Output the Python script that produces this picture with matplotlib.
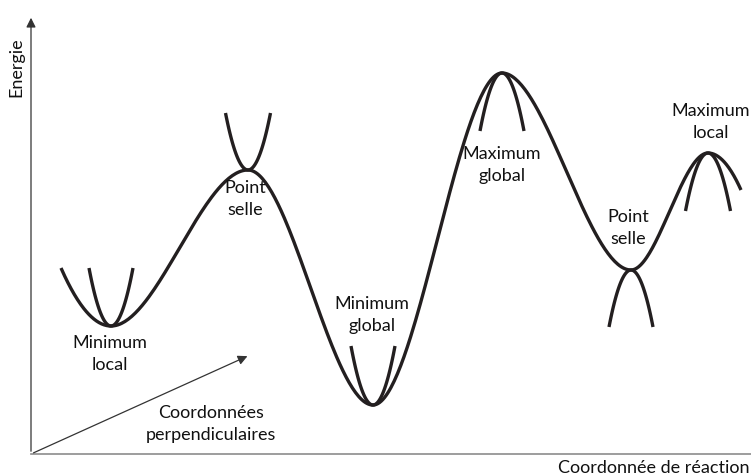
import numpy as np
import matplotlib
matplotlib.use("Agg")
from matplotlib import pyplot as plt

#############################################################
# Data (schematic energy landscape, pixel-like units, y up)
#############################################################
# nodes of the main curve: start, extrema..., end
node_x = [61, 111, 248, 373, 502, 631, 708, 741]
node_y = [207, 149, 305, 70, 402, 205, 322, 285]
# slope at each node (0 at extrema)
node_slope = [-2.27, 0.0, 0.0, 0.0, 0.0, 0.0, 0.0, -2.24]

# perpendicular parabolas: centre x, vertex y, half width, depth (+ up, - down)
par_x = [111, 248, 373, 502, 631, 708]
par_y = [149, 305, 70, 402, 205, 322]
par_w = [22, 22.5, 22, 22, 22, 22.5]
par_h = [58, 57, 59, -58, -57, -58]

labels = ["Minimum\nlocal", "Point\nselle", "Minimum\nglobal",
          "Maximum\nglobal", "Point\nselle", "Maximum\nlocal"]
label_x = [110, 245, 372, 502, 628, 711]
label_y = [121, 276, 160, 310, 247, 353]

FONT = "Lato"
FS = 13
LW = 2.4

#############################################################
# Plot
#############################################################
fig = plt.figure(figsize=(7.51, 4.75), dpi=100)
ax = fig.add_axes([0, 0, 1, 1])
ax.set_xlim(0, 751)
ax.set_ylim(0, 475)
ax.axis("off")

# main curve: cubic Hermite pieces between nodes
xs, ys = [], []
for i in range(len(node_x) - 1):
    x0, x1 = node_x[i], node_x[i + 1]
    y0, y1 = node_y[i], node_y[i + 1]
    h = x1 - x0
    t = np.linspace(0, 1, 80)
    h00 = 2*t**3 - 3*t**2 + 1
    h10 = t**3 - 2*t**2 + t
    h01 = -2*t**3 + 3*t**2
    h11 = t**3 - t**2
    xs.append(x0 + t*h)
    ys.append(h00*y0 + h10*h*node_slope[i] + h01*y1 + h11*h*node_slope[i + 1])
ax.plot(np.concatenate(xs), np.concatenate(ys), color="#231f20", lw=LW,
        solid_capstyle="butt")

# perpendicular parabolas
for cx, cy, w, d in zip(par_x, par_y, par_w, par_h):
    px = np.linspace(cx - w, cx + w, 60)
    ax.plot(px, cy + d*((px - cx)/w)**2, color="#231f20", lw=LW,
            solid_capstyle="butt")

for txt, lx, ly in zip(labels, label_x, label_y):
    ax.text(lx, ly, txt, ha="center", va="center", fontsize=FS,
            family=FONT, linespacing=1.5, color="#111111")

# axes
ax.annotate("", xy=(31, 460), xytext=(31, 21),
            arrowprops=dict(arrowstyle="-|>", color="#333333", lw=0.9,
                            mutation_scale=14))
ax.plot([31, 751], [21, 21], color="#8c8c8c", lw=1.2)
ax.annotate("", xy=(250, 120), xytext=(31, 21),
            arrowprops=dict(arrowstyle="-|>", color="#333333", lw=0.9,
                            mutation_scale=14))

ax.text(16, 408, "Energie", rotation=90, ha="center", va="center",
        fontsize=FS, family=FONT, color="#111111")
ax.text(750, 7, "Coordonnée de réaction", ha="right", va="center",
        fontsize=FS, family=FONT, color="#111111")
ax.text(211, 51, "Coordonnées\nperpendiculaires", ha="center", va="center",
        fontsize=FS, family=FONT, linespacing=1.5, color="#111111")

fig.savefig("out.png", dpi=100)
